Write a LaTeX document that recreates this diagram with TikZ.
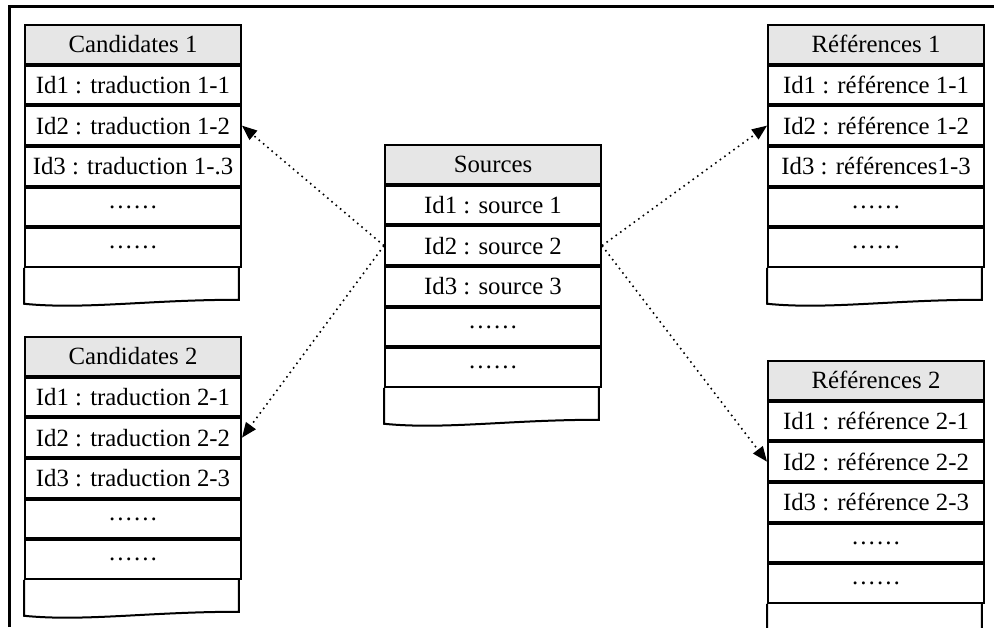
\documentclass[tikz,border=0pt]{standalone}
\usepackage{fontspec}
\setmainfont{Liberation Serif}
\usetikzlibrary{arrows.meta,positioning}
\usepackage{xcolor}
\definecolor{headgray}{HTML}{E6E6E6}
\tikzset{
  cell/.style={draw=black,line width=1pt,minimum width=108pt,minimum height=19.33pt,inner sep=0pt,font=\fontsize{12.4}{14}\selectfont},
  head/.style={cell,fill=headgray,anchor=north west},
  tail/.style={minimum width=107pt,minimum height=17.5pt,inner sep=0pt},
  doc/.style={draw=black,line width=1pt},
  arr/.style={-{Triangle[length=7.5pt,width=6pt]},dotted,line width=0.8pt}
}

\begin{document}
\begin{tikzpicture}[x=0.5pt,y=-0.5pt]
    \useasboundingbox (0,0) rectangle (994,627);
    \draw[line width=1.5pt] (9,627) -- (9,6) -- (994,6);
    % Candidates 1
    \node[head] (c1) at (24,24) {Candidates 1};
    \node[cell,below=0pt of c1] (c1r1) {Id1 : traduction 1-1};
    \node[cell,below=0pt of c1r1] (c1r2) {Id2 : traduction 1-2};
    \node[cell,below=0pt of c1r2] (c1r3) {Id3 : traduction 1-.3};
    \node[cell,below=0pt of c1r3] (c1r4) {……};
    \node[cell,below=0pt of c1r4] (c1r5) {……};
    \node[tail,below right=0pt of c1r5.south west] (c1t) {};
    \draw[doc] (c1t.north west) -- (c1t.south west) .. controls +(30pt,-3pt) and +(-45pt,0pt) .. ([yshift=2pt]c1t.south east) -- (c1t.north east);
    % Candidates 2
    \node[head] (c2) at (24,336) {Candidates 2};
    \node[cell,below=0pt of c2] (c2r1) {Id1 : traduction 2-1};
    \node[cell,below=0pt of c2r1] (c2r2) {Id2 : traduction 2-2};
    \node[cell,below=0pt of c2r2] (c2r3) {Id3 : traduction 2-3};
    \node[cell,below=0pt of c2r3] (c2r4) {……};
    \node[cell,below=0pt of c2r4] (c2r5) {……};
    \node[tail,below right=0pt of c2r5.south west] (c2t) {};
    \draw[doc] (c2t.north west) -- (c2t.south west) .. controls +(30pt,-3pt) and +(-45pt,0pt) .. ([yshift=2pt]c2t.south east) -- (c2t.north east);
    % Sources
    \node[head] (s) at (384,144) {Sources};
    \node[cell,below=0pt of s] (sr1) {Id1 : source 1};
    \node[cell,below=0pt of sr1] (sr2) {Id2 : source 2};
    \node[cell,below=0pt of sr2] (sr3) {Id3 : source 3};
    \node[cell,below=0pt of sr3] (sr4) {……};
    \node[cell,below=0pt of sr4] (sr5) {……};
    \node[tail,below right=0pt of sr5.south west] (st) {};
    \draw[doc] (st.north west) -- (st.south west) .. controls +(30pt,-3pt) and +(-45pt,0pt) .. ([yshift=2pt]st.south east) -- (st.north east);
    % Références 1
    \node[head] (r1) at (767,24) {Références 1};
    \node[cell,below=0pt of r1] (r1r1) {Id1 : référence 1-1};
    \node[cell,below=0pt of r1r1] (r1r2) {Id2 : référence 1-2};
    \node[cell,below=0pt of r1r2] (r1r3) {Id3 : références1-3};
    \node[cell,below=0pt of r1r3] (r1r4) {……};
    \node[cell,below=0pt of r1r4] (r1r5) {……};
    \node[tail,below right=0pt of r1r5.south west] (r1t) {};
    \draw[doc] (r1t.north west) -- (r1t.south west) .. controls +(30pt,-3pt) and +(-45pt,0pt) .. ([yshift=2pt]r1t.south east) -- (r1t.north east);
    % Références 2
    \node[head] (r2) at (767,360) {Références 2};
    \node[cell,below=0pt of r2] (r2r1) {Id1 : référence 2-1};
    \node[cell,below=0pt of r2r1] (r2r2) {Id2 : référence 2-2};
    \node[cell,below=0pt of r2r2] (r2r3) {Id3 : référence 2-3};
    \node[cell,below=0pt of r2r3] (r2r4) {……};
    \node[cell,below=0pt of r2r4] (r2r5) {……};
    \node[tail,below right=0pt of r2r5.south west] (r2t) {};
    \draw[doc] (r2t.north west) -- (r2t.south west) .. controls +(30pt,-3pt) and +(-45pt,0pt) .. ([yshift=2pt]r2t.south east) -- (r2t.north east);
    % links
    \draw[arr] (sr2.west) -- (c1r2.east);
    \draw[arr] (sr2.west) -- (c2r2.east);
    \draw[arr] (sr2.east) -- (r1r2.west);
    \draw[arr] (sr2.east) -- (r2r2.west);
  \end{tikzpicture}
\end{document}
